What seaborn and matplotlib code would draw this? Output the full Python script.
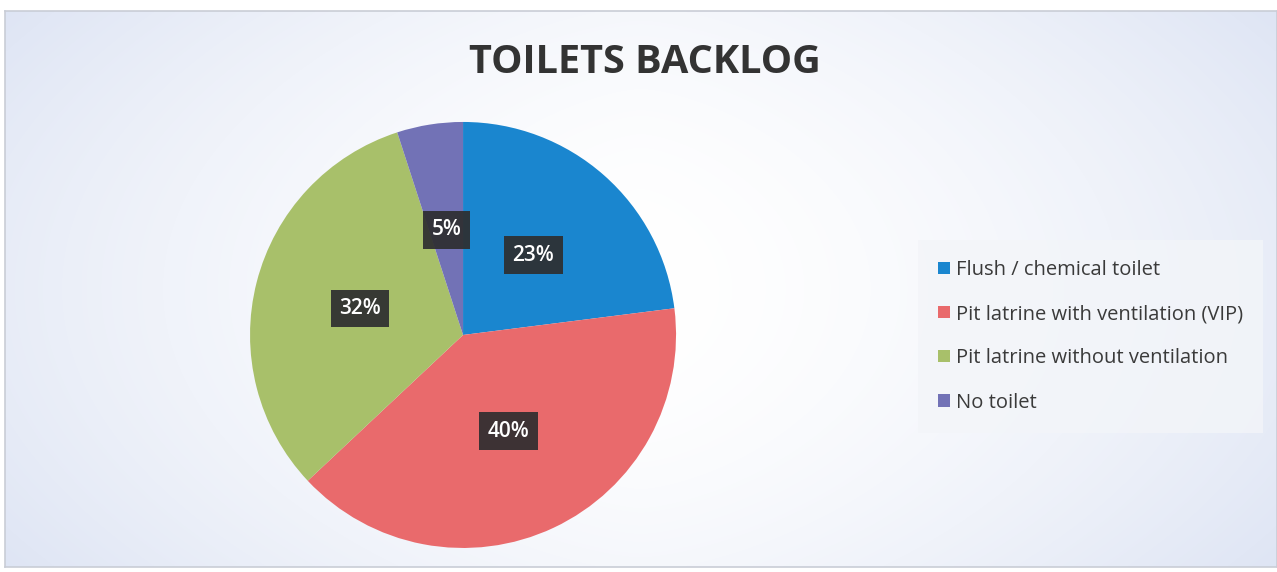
import seaborn as sns
import matplotlib.pyplot as plt
import numpy as np
import matplotlib

matplotlib.use("Agg")

categories = [
    "Flush / chemical toilet",
    "Pit latrine with ventilation (VIP)",
    "Pit latrine without ventilation",
    "No toilet",
]
shares = [23, 40, 32, 5]
slice_colors = ["#1a86cf", "#e96a6c", "#a8c06a", "#7272b6"]
title = "TOILETS BACKLOG"

sns.set_style("white")
plt.rcParams["font.family"] = ["Open Sans", "DejaVu Sans"]
palette = sns.color_palette(slice_colors)

fig = plt.figure(figsize=(12.77, 5.72), dpi=100)
fig.patch.set_facecolor("white")

# scanned-looking background: pale blue edges fading to white in the middle
bg = fig.add_axes([0.004, 0.009, 0.996, 0.971])
xx = np.linspace(-1, 1, 400)
yy = np.linspace(-1, 1, 200)
gx, gy = np.meshgrid(xx, yy)
fade = np.clip(0.6 * np.abs(gx) ** 1.5 + 0.25 * np.abs(gy) ** 2, 0, 1)
edge = np.array([0.85, 0.88, 0.95])
img = 1 - fade[..., None] * (1 - edge)[None, None, :]
bg.imshow(img, aspect="auto", extent=[0, 1, 0, 1], interpolation="bilinear")
bg.set_xticks([])
bg.set_yticks([])
for s in bg.spines.values():
    s.set_color("#c9cdd6")
    s.set_linewidth(1.2)

ax = fig.add_axes([0.1958, 0.0420, 0.3336, 0.7448])
wedges, texts, autotexts = ax.pie(
    shares,
    colors=palette,
    startangle=90,
    counterclock=False,
    autopct="%d%%",
    pctdistance=0.5,
    wedgeprops={"linewidth": 0},
)
for t in autotexts:
    t.set_color("white")
    t.set_fontsize(15)
    t.set_fontweight("semibold")
    t.set_bbox(dict(boxstyle="square,pad=0.4", facecolor="#2e2e30", edgecolor="none", alpha=0.92))
ax.set_xlim(-1, 1)
ax.set_ylim(-1, 1)
ax.set_aspect("equal")

fig.text(0.505, 0.89, title, ha="center", va="center",
         fontsize=28.5, fontweight="bold", color="#333333")

leg = fig.legend(
    wedges,
    categories,
    loc="center left",
    bbox_to_anchor=(0.716, 0.412),
    frameon=True,
    fontsize=14.5,
    handlelength=0.55,
    handleheight=0.55,
    handletextpad=0.3,
    labelspacing=1.2,
    borderpad=0.7,
    labelcolor="#3a3a3a",
)
leg.get_frame().set_facecolor("#f3f5f9")
leg.get_frame().set_edgecolor("none")
leg.get_frame().set_alpha(0.8)
leg.get_frame().set_boxstyle("square")

fig.savefig("out.png", dpi=100)
